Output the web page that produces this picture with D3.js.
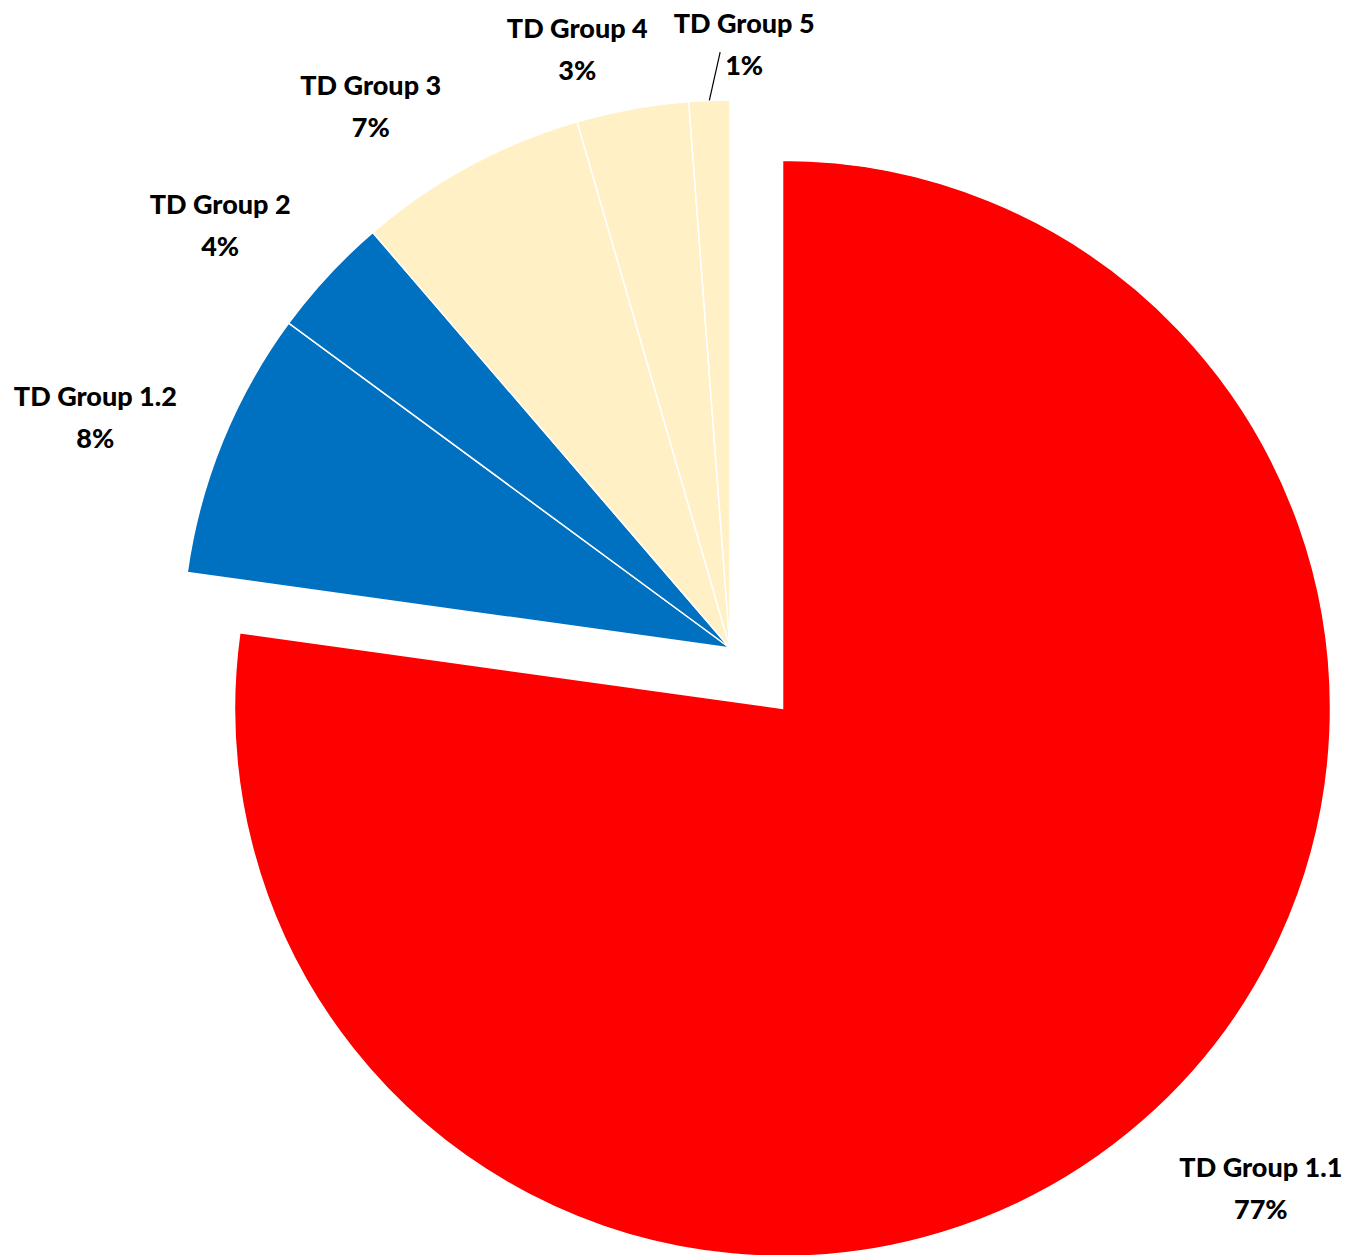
<!DOCTYPE html>
<html><head><meta charset="utf-8">
<script src="https://cdn.jsdelivr.net/npm/d3@7"></script>
<style>body{margin:0;background:#fff}</style>
</head><body>
<div id="chart"></div>
<script>
var width = 1357, height = 1255;
var categories = ["TD Group 1.1", "TD Group 1.2", "TD Group 2", "TD Group 3", "TD Group 4", "TD Group 5"];
var values = [77.2, 7.9, 3.6, 6.8, 3.3, 1.2];
var shownPct = ["77%", "8%", "4%", "7%", "3%", "1%"];
var colors = ["#ff0000", "#0070c0", "#0070c0", "#fff0c6", "#fff0c6", "#fff0c6"];
// label placement: angle shift (deg) from slice middle, distance from centre
var labelShift = [-4, -2, -3, -5, -4, 3.5];
var labelDist = [676, 676, 664, 652, 620, 606];

var cx = 730, cy = 648, r = 548, explode = 80;

var svg = d3.select("#chart").append("svg")
  .attr("width", width).attr("height", height);

var pie = d3.pie().sort(null).value(function(d) { return d; });
var arcs = pie(values);
var arc = d3.arc().innerRadius(0).outerRadius(r);

var g = svg.append("g").attr("transform", "translate(" + cx + "," + cy + ")");

function offset(a, dist) {
  var m = (a.startAngle + a.endAngle) / 2;
  return [Math.sin(m) * dist, -Math.cos(m) * dist];
}

arcs.forEach(function(a, i) {
  var o = i === 0 ? offset(a, explode) : [0, 0];
  var sg = g.append("g").attr("transform", "translate(" + o[0] + "," + o[1] + ")");
  sg.append("path")
    .attr("d", arc(a))
    .attr("fill", colors[i])
    .attr("stroke", "#fff")
    .attr("stroke-width", 1.5);

  var m = (a.startAngle + a.endAngle) / 2 + labelShift[i] * Math.PI / 180;
  var lx = Math.sin(m) * labelDist[i], ly = -Math.cos(m) * labelDist[i];
  var t = sg.append("text")
    .attr("text-anchor", "middle")
    .attr("font-family", "Lato, 'Noto Sans', sans-serif")
    .attr("font-weight", "900")
    .attr("font-size", 27)
    .attr("fill", "#000");
  t.append("tspan").attr("x", lx).attr("y", ly - 9).text(categories[i]);
  t.append("tspan").attr("x", lx).attr("y", ly + 33).text(shownPct[i]);

  if (i === 5) {
    var mm = (a.startAngle + a.endAngle) / 2;
    var p0 = [Math.sin(mm) * r, -Math.cos(mm) * r];
    sg.append("line")
      .attr("x1", p0[0]).attr("y1", p0[1])
      .attr("x2", lx - 24).attr("y2", ly + 10)
      .attr("stroke", "#000").attr("stroke-width", 1.2);
  }
});
</script>
</body></html>
